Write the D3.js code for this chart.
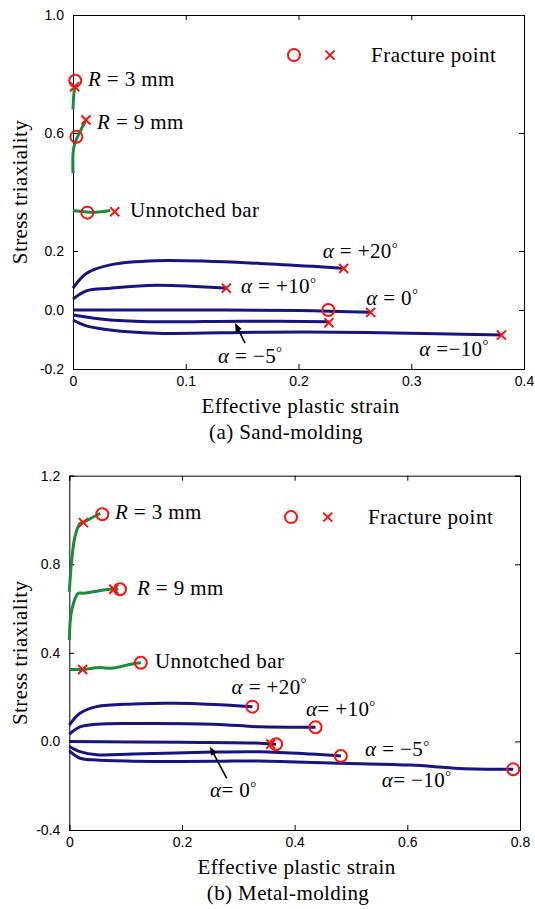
<!DOCTYPE html>
<html>
<head>
<meta charset="utf-8">
<script src="https://cdn.jsdelivr.net/npm/d3@7"></script>
<style>
body { margin: 0; background: #fff; }
text { font-family: "Liberation Serif", "Times New Roman", serif; fill: #000; }
.tick text { font-family: "Liberation Sans", Arial, sans-serif; font-size: 14px; letter-spacing: 0; }
</style>
</head>
<body>
<svg id="fig"></svg>
<script>
const W = 535, H = 909
const navy = '#15157f', green = '#1b8a3c', red = '#ff1010'

// (a) sand-molding : [effective plastic strain, stress triaxiality]
const sandXTicks = [0, 0.1, 0.2, 0.3, 0.4]
const sandYTicks = [-0.2, 0, 0.2, 0.6, 1.0]
const sandR3 = [[0, 0.68], [0.0005, 0.72], [0.0015, 0.757]]
const sandR9 = [[0, 0.464], [0.0003, 0.542], [0.0027, 0.576], [0.0062, 0.604], [0.0115, 0.644]]
const sandBar = [[0, 0.337], [0.01, 0.333], [0.02, 0.331], [0.033, 0.337]]
const sandP20 = [[0, 0.074], [0.0118, 0.124], [0.033, 0.153], [0.074, 0.167], [0.166, 0.158], [0.240, 0.141]]
const sandP10 = [[0, 0.037], [0.0118, 0.065], [0.033, 0.074], [0.074, 0.084], [0.136, 0.074]]
const sandZero = [[0, 0.0], [0.1, 0.0], [0.2, -0.002], [0.264, -0.008]]
const sandM5 = [[0, -0.017], [0.033, -0.034], [0.074, -0.04], [0.15, -0.038], [0.227, -0.04]]
const sandM10 = [[0, -0.034], [0.0118, -0.054], [0.033, -0.068], [0.074, -0.079], [0.17, -0.075], [0.26, -0.076], [0.38, -0.085]]
const sandCircles = [[0.002, 0.777], [0.003, 0.587], [0.0127, 0.33], [0.2265, 0.0]]
const sandCrosses = [[0.0015, 0.757], [0.0115, 0.644], [0.037, 0.333], [0.240, 0.141], [0.136, 0.074], [0.264, -0.008], [0.227, -0.043], [0.380, -0.085]]

// (b) metal-molding
const metalXTicks = [0, 0.2, 0.4, 0.6, 0.8]
const metalYTicks = [-0.4, 0, 0.4, 0.8, 1.2]
const metalR3 = [[0, 0.676], [0.0043, 0.819], [0.0101, 0.925], [0.019, 0.985], [0.025, 0.99], [0.04, 1.01], [0.055, 1.03]]
const metalR9 = [[0, 0.458], [0.0043, 0.593], [0.016, 0.669], [0.0248, 0.669], [0.0426, 0.676], [0.0722, 0.687], [0.087, 0.687]]
const metalBar = [[0, 0.325], [0.0237, 0.325], [0.0545, 0.334], [0.0722, 0.33], [0.09, 0.337], [0.111, 0.35], [0.127, 0.355]]
const metalP20 = [[0, 0.074], [0.019, 0.127], [0.0486, 0.157], [0.1136, 0.169], [0.185, 0.172], [0.256, 0.167], [0.325, 0.157]]
const metalP10 = [[0, 0.033], [0.019, 0.066], [0.0486, 0.078], [0.1136, 0.081], [0.256, 0.078], [0.3385, 0.066], [0.437, 0.064]]
const metalZero = [[0, 0.0], [0.2, -0.004], [0.3385, -0.008], [0.367, -0.013]]
const metalM5 = [[0, -0.023], [0.019, -0.046], [0.0486, -0.06], [0.1136, -0.057], [0.2556, -0.048], [0.3385, -0.047], [0.427, -0.057], [0.482, -0.066]]
const metalM10 = [[0, -0.043], [0.019, -0.076], [0.0486, -0.084], [0.1136, -0.089], [0.2556, -0.09], [0.3385, -0.088], [0.486, -0.099], [0.605, -0.107], [0.693, -0.122], [0.788, -0.126]]
const metalCircles = [[0.0586, 1.026], [0.090, 0.687], [0.127, 0.355], [0.325, 0.157], [0.437, 0.064], [0.367, -0.013], [0.482, -0.066], [0.788, -0.126]]
const metalCrosses = [[0.025, 0.988], [0.079, 0.687], [0.0237, 0.325], [0.3575, -0.012]]

const svg = d3.select('#fig').attr('width', W).attr('height', H)

function fmt(d) {
	return d === 0 ? '0' : d.toFixed(1)
}

function drawPanel(p) {
	const x = d3.scaleLinear().domain(p.xDomain).range([p.left, p.right])
	const y = d3.scaleLinear().domain(p.yDomain).range([p.bottom, p.top])
	const g = svg.append('g')

	// axes, ticks pointing inward
	g.append('g').attr('transform', `translate(0,${p.bottom})`)
		.call(d3.axisBottom(x).tickValues(p.xTicks).tickFormat(fmt).tickSize(-5).tickPadding(7))
	g.append('g').attr('transform', `translate(0,${p.top})`)
		.call(d3.axisTop(x).tickValues(p.xTicks).tickFormat('').tickSize(-5))
	g.append('g').attr('transform', `translate(${p.left},0)`)
		.call(d3.axisLeft(y).tickValues(p.yTicks).tickFormat(d => d.toFixed(1)).tickSize(-5).tickPadding(9))
	g.append('g').attr('transform', `translate(${p.right},0)`)
		.call(d3.axisRight(y).tickValues(p.yTicks).tickFormat('').tickSize(-5))
	g.selectAll('.domain').attr('stroke', '#000')
	g.selectAll('.tick line').attr('stroke', '#000')

	const line = d3.line().x(d => x(d[0])).y(d => y(d[1])).curve(d3.curveCatmullRom)
	p.series.forEach(s => {
		g.append('path').attr('d', line(s.data))
			.attr('fill', 'none').attr('stroke', s.color).attr('stroke-width', 3)
			.attr('stroke-linecap', 'butt').attr('stroke-linejoin', 'round')
	})

	g.selectAll('.circ').data(p.circles).enter().append('circle')
		.attr('cx', d => x(d[0])).attr('cy', d => y(d[1])).attr('r', 6)
		.attr('fill', 'none').attr('stroke', red).attr('stroke-width', 2)
	const cross = d3.symbol().type(d3.symbolX).size(55)
	g.selectAll('.cross').data(p.crosses).enter().append('path')
		.attr('d', cross).attr('transform', d => `translate(${x(d[0])},${y(d[1])})`)
		.attr('fill', 'none').attr('stroke', red).attr('stroke-width', 2)

	// legend
	g.append('circle').attr('cx', x(p.legend[0])).attr('cy', y(p.legend[1])).attr('r', 6)
		.attr('fill', 'none').attr('stroke', red).attr('stroke-width', 2)
	g.append('path').attr('d', cross)
		.attr('transform', `translate(${x(p.legend[2])},${y(p.legend[1])})`)
		.attr('fill', 'none').attr('stroke', red).attr('stroke-width', 2)
	g.append('text').attr('x', x(p.legend[3])).attr('y', y(p.legend[1])).attr('dy', '0.32em')
		.attr('font-size', 21).attr('letter-spacing', 0.5).text('Fracture point')

	// annotations
	p.labels.forEach(l => {
		const t = g.append('text').attr('x', x(l.x)).attr('y', y(l.y)).attr('dy', '0.32em')
			.attr('font-size', 21).attr('letter-spacing', 0.4)
		if (l.kind === 'R') {
			t.append('tspan').attr('font-style', 'italic').text('R')
			t.append('tspan').text(` = ${l.v} mm`)
		} else if (l.kind === 'a') {
			t.append('tspan').attr('font-style', 'italic').text('α')
			t.append('tspan').text(l.v)
			t.append('tspan').text('°').attr('font-size', 15).attr('dy', '-0.35em')
		} else {
			t.text(l.v)
		}
	})

	// arrow
	const a = p.arrow
	const x1 = x(a[0]), y1 = y(a[1]), x2 = x(a[2]), y2 = y(a[3])
	const ang = Math.atan2(y2 - y1, x2 - x1)
	g.append('line').attr('x1', x1).attr('y1', y1)
		.attr('x2', x2 - 6 * Math.cos(ang)).attr('y2', y2 - 6 * Math.sin(ang))
		.attr('stroke', '#000').attr('stroke-width', 1.6)
	const hl = 9, hw = 0.38
	g.append('path')
		.attr('d', `M${x2},${y2}L${x2 - hl * Math.cos(ang - hw)},${y2 - hl * Math.sin(ang - hw)}L${x2 - hl * Math.cos(ang + hw)},${y2 - hl * Math.sin(ang + hw)}Z`)
		.attr('fill', '#000')

	// axis titles
	g.append('text').attr('x', (p.left + p.right) / 2 + 2).attr('y', p.bottom + 44)
		.attr('text-anchor', 'middle').attr('font-size', 21).attr('letter-spacing', 0.4).text('Effective plastic strain')
	g.append('text').attr('transform', `translate(27,${(p.top + p.bottom) / 2}) rotate(-90)`)
		.attr('text-anchor', 'middle').attr('font-size', 21).attr('letter-spacing', 0.4).text('Stress triaxiality')
	g.append('text').attr('x', p.captionX).attr('y', p.bottom + 70)
		.attr('text-anchor', 'middle').attr('font-size', 21).attr('letter-spacing', 0.4).text(p.caption)
}

drawPanel({
	left: 73, right: 524, top: 15, bottom: 369,
	xDomain: [0, 0.4], yDomain: [-0.2, 1.0],
	xTicks: sandXTicks, yTicks: sandYTicks,
	series: [
		{ data: sandR3, color: green }, { data: sandR9, color: green }, { data: sandBar, color: green },
		{ data: sandP20, color: navy }, { data: sandP10, color: navy }, { data: sandZero, color: navy },
		{ data: sandM5, color: navy }, { data: sandM10, color: navy }
	],
	circles: sandCircles, crosses: sandCrosses,
	legend: [0.196, 0.864, 0.228, 0.2643],
	labels: [
		{ kind: 'R', v: 3, x: 0.0133, y: 0.783 },
		{ kind: 'R', v: 9, x: 0.0213, y: 0.637 },
		{ kind: 't', v: 'Unnotched bar', x: 0.0506, y: 0.339 },
		{ kind: 'a', v: ' = +20', x: 0.2215, y: 0.198 },
		{ kind: 'a', v: ' = +10', x: 0.149, y: 0.079 },
		{ kind: 'a', v: ' = 0', x: 0.26, y: 0.041 },
		{ kind: 'a', v: ' = −5', x: 0.1286, y: -0.156 },
		{ kind: 'a', v: ' =−10', x: 0.307, y: -0.132 }
	],
	arrow: [0.1526, -0.112, 0.1437, -0.044],
	caption: '(a) Sand-molding', captionX: 286
})

drawPanel({
	left: 69.3, right: 520, top: 475.7, bottom: 830,
	xDomain: [0, 0.8], yDomain: [-0.4, 1.2],
	xTicks: metalXTicks, yTicks: metalYTicks,
	series: [
		{ data: metalR3, color: green }, { data: metalR9, color: green }, { data: metalBar, color: green },
		{ data: metalP20, color: navy }, { data: metalP10, color: navy }, { data: metalZero, color: navy },
		{ data: metalM5, color: navy }, { data: metalM10, color: navy }
	],
	circles: metalCircles, crosses: metalCrosses,
	legend: [0.3935, 1.013, 0.4587, 0.530],
	labels: [
		{ kind: 'R', v: 3, x: 0.0811, y: 1.033 },
		{ kind: 'R', v: 9, x: 0.120, y: 0.693 },
		{ kind: 't', v: 'Unnotched bar', x: 0.152, y: 0.36 },
		{ kind: 'a', v: ' = +20', x: 0.288, y: 0.246 },
		{ kind: 'a', v: '= +10', x: 0.42, y: 0.145 },
		{ kind: 'a', v: ' = −5', x: 0.525, y: -0.036 },
		{ kind: 'a', v: '= −10', x: 0.5545, y: -0.174 },
		{ kind: 'a', v: '= 0', x: 0.2497, y: -0.22 }
	],
	arrow: [0.2794, -0.167, 0.2497, -0.024],
	caption: '(b) Metal-molding', captionX: 288
})
</script>
</body>
</html>
